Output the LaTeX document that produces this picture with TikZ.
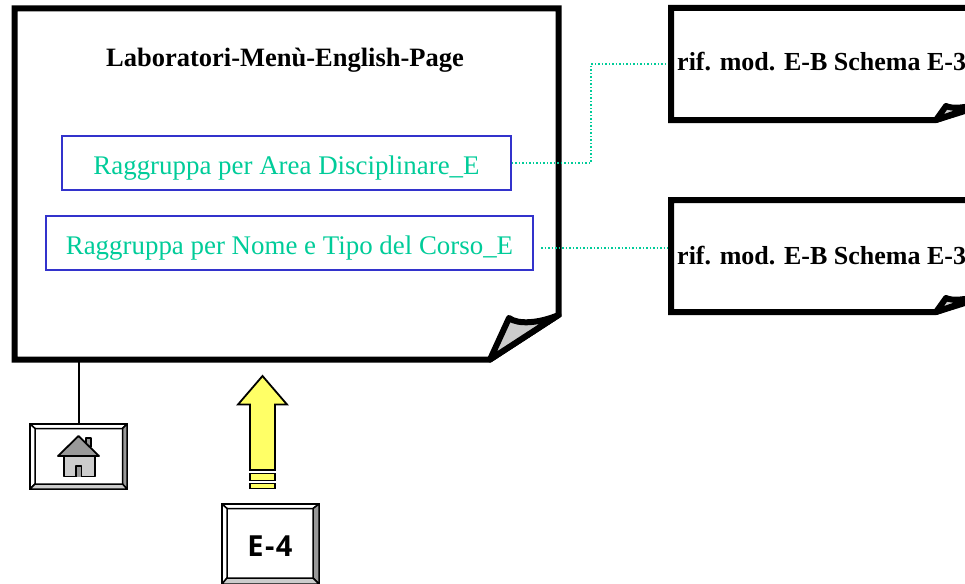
\documentclass[tikz,border=0pt]{standalone}
\usepackage{fontspec}
\setmainfont{Liberation Serif}
\newfontfamily\keyfont[LetterSpace=5]{Open Sans}
\definecolor{linkgreen}{RGB}{0,204,153}
\definecolor{boxblue}{RGB}{51,51,204}
\definecolor{arrowyellow}{RGB}{255,255,102}
\tikzset{
  pageline/.style={draw=black, line width=6pt, fill=white, miter limit=10},
  foldline/.style={draw=black, line width=6pt, fill=black!20, line join=round},
  menubox/.style={draw=boxblue, line width=1.6pt, text=linkgreen, font=\fontsize{26.9}{30}\selectfont, minimum height=54pt, inner sep=0pt, text height=22pt, text depth=0pt},
  linkline/.style={linkgreen, line width=1.6pt, dash pattern=on 1.5pt off 2pt},
  titletext/.style={font=\bfseries\fontsize{26.5}{30}\selectfont, inner sep=0pt},
  reftext/.style={font=\bfseries\fontsize{26}{30}\selectfont, inner sep=0pt, anchor=base west},
  keybox/.style={draw=black, line width=1.8pt, fill=white, minimum width=97pt, minimum height=65pt, inner sep=0pt},
  bevel/.style={draw=black, line width=1.5pt, line join=round},
  houseline/.style={draw=black, line width=1.8pt, line join=round},
  bigarrow/.style={draw=black, line width=1.8pt, fill=arrowyellow, line join=miter}
}

\begin{document}
\begin{tikzpicture}[x=1pt, y=-1pt]
\useasboundingbox (0,0) rectangle (965,583);
\clip (0,0) rectangle (965,583);

% main page
\draw[pageline] (14.5,8.5) -- (558.5,8.5) -- (558.5,315) -- (490,359.5) -- (14.5,359.5) -- cycle;
\draw[foldline] (490,359.5) -- (509,318) .. controls (518,325) and (540,323) .. (558.5,315) -- cycle;
\node[titletext] (title) at (285,60) {Laboratori-Menù-English-Page};
\node[menubox, minimum width=449pt] (area) at (286.5,163) {Raggruppa per Area Disciplinare\_E};
\node[menubox, minimum width=487pt] (nome) at (289.5,243) {Raggruppa per Nome e Tipo del Corso\_E};

% notes on the right
\draw[pageline] (671,8) -- (1000,8) -- (1000,100) -- (936,120) -- (671,120) -- cycle;
\draw[foldline] (936,120) -- (946,106) .. controls (952,109) and (965,108) .. (985,103) -- cycle;
\draw[pageline] (671,200) -- (1000,200) -- (1000,292) -- (936,312) -- (671,312) -- cycle;
\draw[foldline] (936,312) -- (946,298) .. controls (952,301) and (965,300) .. (985,295) -- cycle;
\node[reftext] (rifa) at (677,71) {rif. mod. E-B Schema E-3};
\node[reftext] (rifb) at (677,264) {rif. mod. E-B Schema E-3};

% dotted links
\coordinate (rifaend) at (668,64);
\coordinate (rifbend) at (668,248);
\coordinate (areabend) at (591,64);
\coordinate (nomestart) at (541,248);
\draw[linkline] (area.east) -| (areabend) -- (rifaend);
\draw[linkline] (nomestart) -- (rifbend);

% home key
\node[keybox] (home) at (78.5,456.5) {};
\coordinate (pagefoot) at (78.5,362);
\draw[line width=2pt] (pagefoot) -- (home.north);
\draw[bevel, fill=white] (30,424) -- (127,424) -- (122.5,428.5) -- (35,428.5) -- cycle;
\draw[bevel, fill=white] (30,424) -- (35,428.5) -- (35,484) -- (30,489) -- cycle;
\draw[bevel, fill=black!40] (127,424) -- (127,489) -- (122.5,484) -- (122.5,428.5) -- cycle;
\draw[bevel, fill=black!20] (30,489) -- (35,484) -- (122.5,484) -- (127,489) -- cycle;
\draw[houseline, fill=black!40] (86,447) -- (86,438) -- (91,438) -- (91,447);
\draw[houseline, fill=black!20] (64,456) -- (64,476.5) -- (95,476.5) -- (95,456) -- cycle;
\draw[houseline, fill=black!40] (78.5,436) -- (99,456) -- (58,456) -- cycle;
\draw[houseline, fill=black!40] (76,476.5) -- (76,466) -- (81.5,466) -- (81.5,476.5);

% up arrow
\draw[bigarrow] (262.5,376) -- (287,404.5) -- (275,404.5) -- (275,470) -- (250,470) -- (250,404.5) -- (238,404.5) -- cycle;
\draw[bigarrow] (250,473.5) rectangle (275,480.5);
\draw[bigarrow] (250,483.5) rectangle (275,488.5);

% E-4 key
\node[keybox, minimum height=80pt] (eqkey) at (270.5,544) {};
\draw[bevel, fill=white] (222,504) -- (319,504) -- (313,508.5) -- (227,508.5) -- cycle;
\draw[bevel, fill=white] (222,504) -- (227,508.5) -- (227,578) -- (222,584) -- cycle;
\draw[bevel, fill=black!40] (319,504) -- (319,584) -- (313,578) -- (313,508.5) -- cycle;
\draw[bevel, fill=black!20] (222,584) -- (227,578) -- (313,578) -- (319,584) -- cycle;
\node[font=\keyfont\bfseries\fontsize{29}{32}\selectfont, inner sep=0pt] (eqtext) at (270,546) {E-4};
\end{tikzpicture}
\end{document}
